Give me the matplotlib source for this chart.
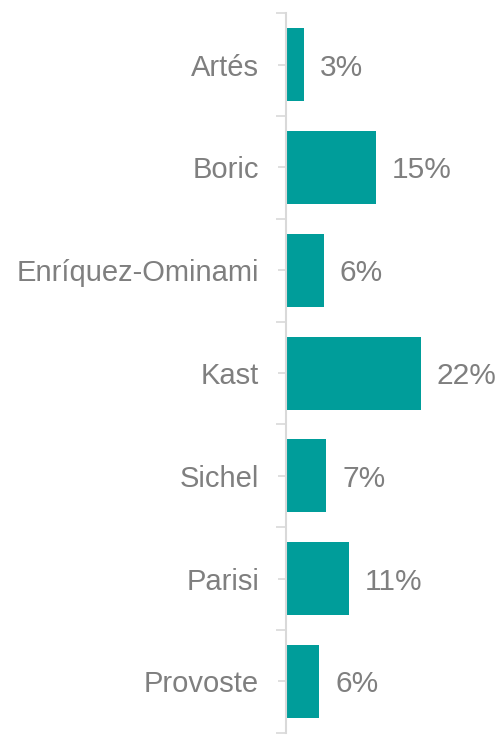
import numpy as np
import matplotlib.pyplot as plt

plt.rcParams['font.family'] = ['Liberation Sans', 'DejaVu Sans']

# data
candidates = ['Artés', 'Boric', 'Enríquez-Ominami', 'Kast', 'Sichel', 'Parisi', 'Provoste']
values = [2.96, 14.7, 6.2, 22.0, 6.63, 10.25, 5.5]
labels = ['3%', '15%', '6%', '22%', '7%', '11%', '6%']

teal = '#009d9a'
grey = '#7f7f7f'

fig = plt.figure(figsize=(5, 7.35), dpi=100)
ax = fig.add_axes([0.571, 0.003, 0.429, 0.979])

y = np.arange(len(candidates))
ax.barh(y, values, height=0.71, color=teal)
for yi, v, lab in zip(y, values, labels):
    ax.text(v + 2.55, yi, lab, va='center_baseline', ha='left', fontsize=21.5, color=grey)

ax.set_ylim(len(candidates) - 0.5, -0.5)
ax.set_xlim(0, 34.8)
ax.set_yticks(y)
ax.set_yticklabels(candidates, fontsize=21, color=grey)
ax.set_yticks(np.arange(-0.5, len(candidates)), minor=True)
ax.tick_params(axis='y', which='major', length=6, width=1.2, color='#d9d9d9', pad=13)
ax.tick_params(axis='y', which='minor', length=7, width=1.2, color='#d9d9d9')
ax.set_xticks([])
for s in ['top', 'right', 'bottom']:
    ax.spines[s].set_visible(False)
ax.spines['left'].set_color('#d9d9d9')
ax.spines['left'].set_linewidth(1.5)

fig.savefig('out.png', dpi=100)
